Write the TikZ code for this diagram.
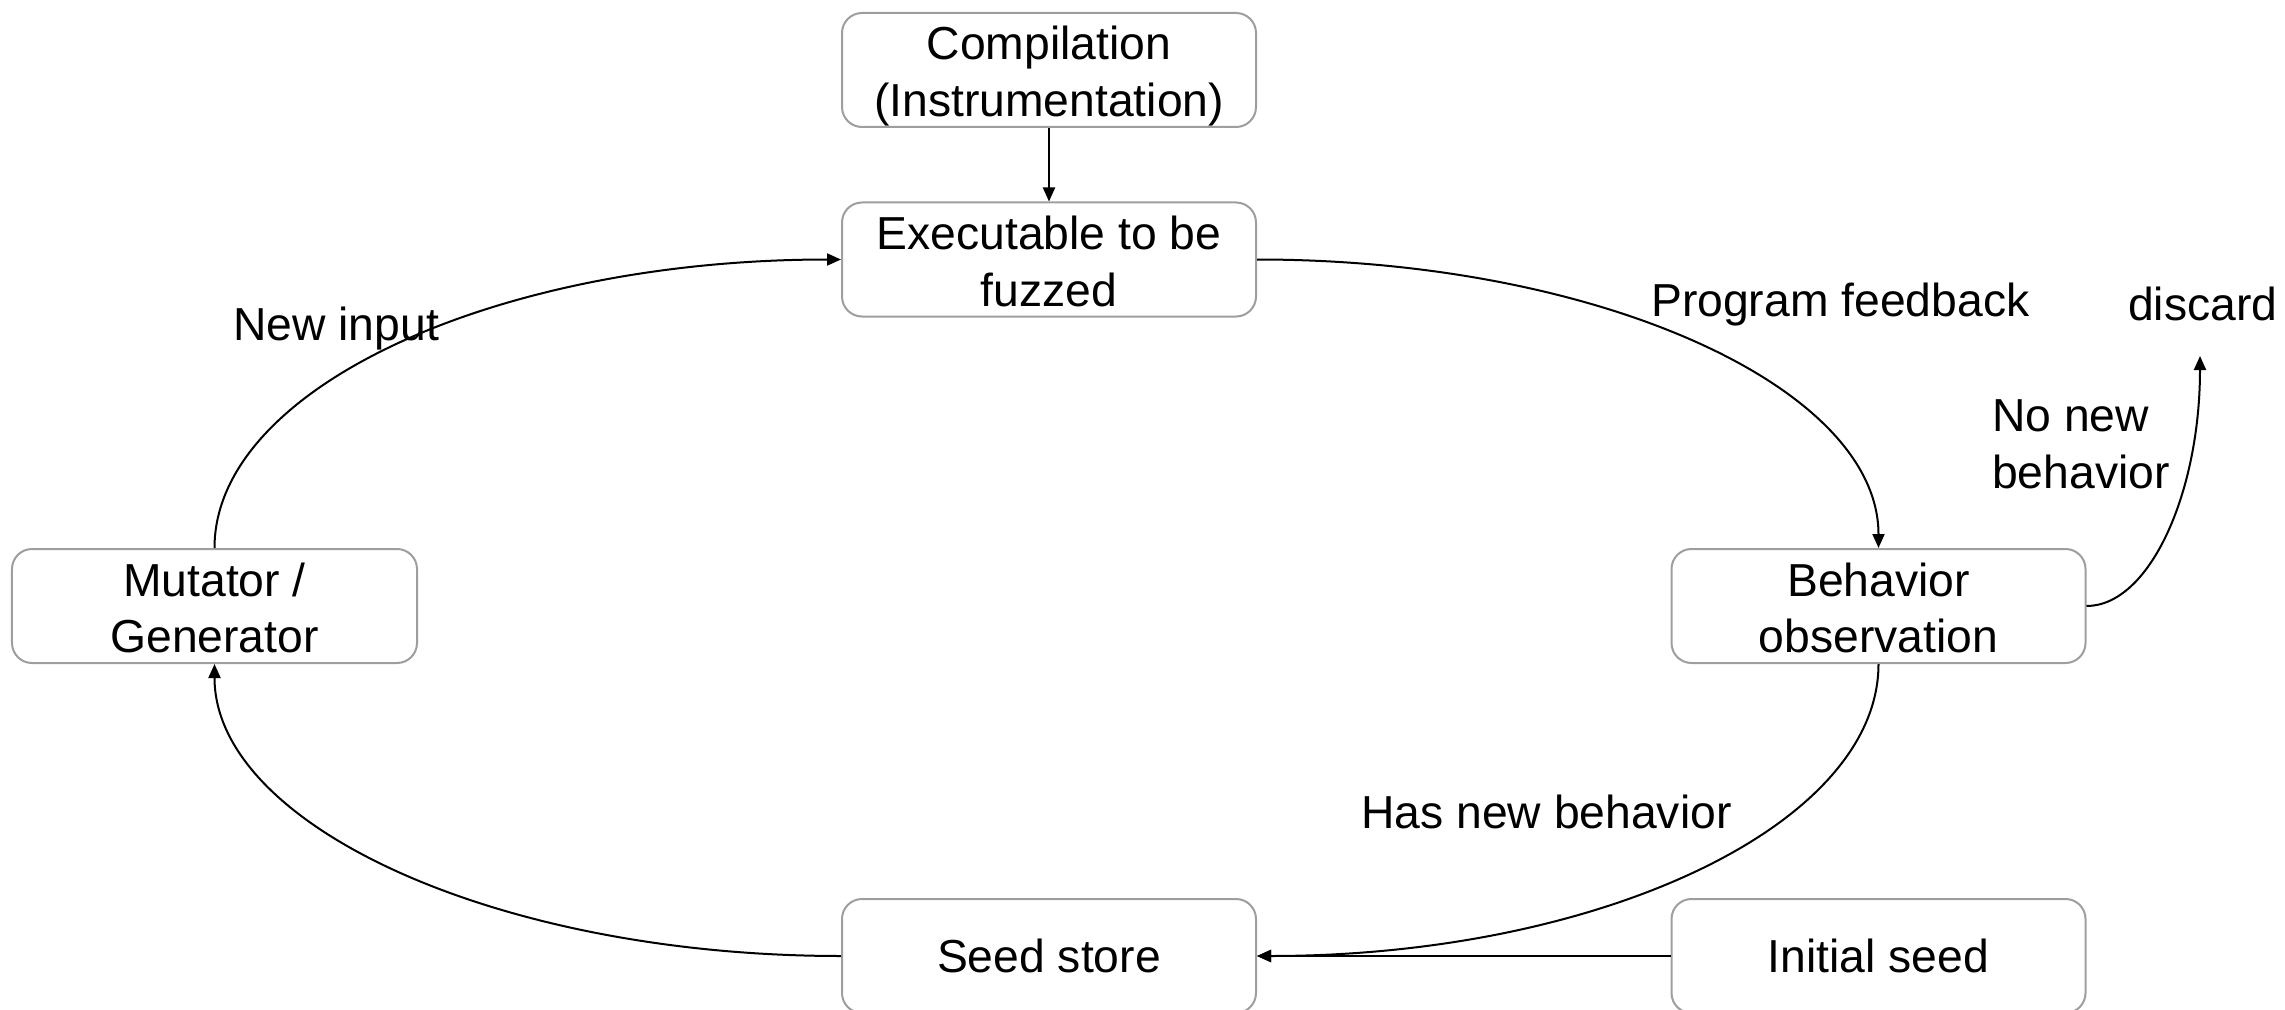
\documentclass[tikz,border=0pt]{standalone}
\usepackage{fontspec}
\setmainfont{Liberation Sans}
\usetikzlibrary{arrows.meta}
\definecolor{boxgray}{HTML}{9E9E9E}
\newcommand\topfill[1]{\rule{0pt}{#1}}
\begin{document}
\begin{tikzpicture}[x=0.3mm,y=-0.3mm,
  font=\fontsize{39.5pt}{48.5pt}\selectfont,
  box/.style={draw=boxgray,line width=0.6mm,rounded corners=6mm,
    minimum width=124.2mm,minimum height=34.2mm,inner sep=0pt,align=center},
  lbl/.style={inner sep=0pt,anchor=west,align=left},
  arr/.style={draw=black,line width=0.6mm,-{Triangle[length=4.2mm,width=3.6mm]}}]
\useasboundingbox (0,0) rectangle (2285,1010);
\node[box] (comp) at (1049,70) {\topfill{39pt}Compilation\\(Instrumentation)};
\node[box] (exec) at (1049,259.5) {\topfill{32pt}Executable to be\\fuzzed};
\node[box,minimum width=121.5mm] (mut) at (214.5,606) {\topfill{32pt}Mutator /\\Generator};
\node[box] (beh) at (1878.5,606) {\topfill{32pt}Behavior\\observation};
\node[box] (seed) at (1049,956) {Seed store};
\node[box] (init) at (1878.5,956) {Initial seed};
\coordinate (dend) at (2200,356);
\node[lbl] (newin) at (233,329) {New input};
\node[lbl] (progfb) at (1651,305) {Program feedback};
\node[lbl] (disc) at (2128,304) {discard};
\node[lbl] (nonew) at (1992,444) {No new\\behavior};
\node[lbl] (hasnew) at (1361,812) {Has new behavior};
\draw[arr] (comp.south) -- (exec.north);
\draw[arr] (exec.east) .. controls +(343,0) and +(0,-160) .. (beh.north);
\draw[arr] (beh.south) .. controls +(0,161) and +(343,0) .. (seed.east);
\draw[arr] (seed.west) .. controls +(-345,0) and +(0,161) .. (mut.south);
\draw[arr] (mut.north) .. controls +(0,-160) and +(-345,0) .. (exec.west);
\draw[arr] (init.west) -- (seed.east);
\draw[arr] (beh.east) .. controls +(63,0) and +(0,137) .. (dend);
\end{tikzpicture}
\end{document}
